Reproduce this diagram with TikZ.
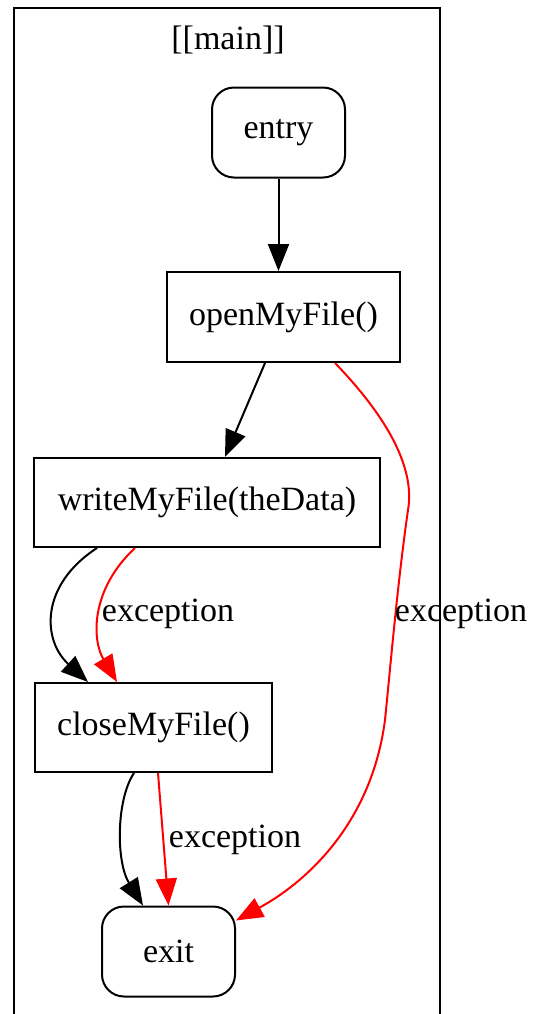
\documentclass[tikz,border=0pt]{standalone}
\usepackage{fontspec}
\setmainfont{Liberation Serif}
\usepackage{tikz}
\usetikzlibrary{arrows.meta,positioning}

\tikzset{
    flowBase/.style={
        rectangle,
        draw,
        line width=1pt,
        inner sep=0pt,
        align=center,
        font=\fontsize{17}{20}\selectfont
    },
    % node variants
    terminal/.style={flowBase, rounded corners=11pt, minimum width=66.5pt, minimum height=45pt},
    call/.style={flowBase},
    % labels
    edgeLabel/.style={font=\fontsize{17}{20}\selectfont, inner sep=0pt}
}

\begin{document}
\begin{tikzpicture}[
    x=0.5pt, y=-0.5pt,
    arr/.style={-{Triangle[length=13.5pt,width=10.5pt]}, line width=1pt},
    exc/.style={arr, draw=red}
]
\useasboundingbox (0,0) rectangle (534,1014);

% cluster frame
\draw[line width=1pt] (14,1014) -- (14,8) -- (440,8) -- (440,1014);
\node[edgeLabel] (title) at (228,40) {[[main]]};

\node[terminal] (entry) at (278.5,132.5) {entry};
\node[call, minimum width=116.5pt, minimum height=45pt] (open) at (283.5,317) {openMyFile()};
\node[call, minimum width=173pt, minimum height=44.5pt] (write) at (207,502.5) {writeMyFile(theData)};
\node[call, minimum width=118.5pt, minimum height=44.5pt] (close) at (153.5,727.5) {closeMyFile()};
\node[terminal] (exit) at (168.5,951.5) {exit};

\draw[arr] (entry.south) -- (entry.south |- open.north);
\draw[arr] ([xshift=-9.25pt]open.south) -- ([xshift=9pt]write.north);
\draw[arr] ([xshift=-55pt]write.south) .. controls (40,585) and (42,640) .. ([xshift=-32.75pt]close.north);
\draw[exc] ([xshift=-36pt]write.south) .. controls (90,590) and (92,640) .. ([xshift=-18.25pt]close.north);
\draw[arr] ([xshift=-9.75pt]close.south) .. controls (116,800) and (116,862) .. ([xshift=-12.75pt]exit.north);
\draw[exc] ([xshift=2.25pt]close.south) -- (exit.north);
\draw[exc] ([xshift=25.75pt]open.south) .. controls (390,420) and (415,470) .. (408,510)
    .. controls (398,580) and (392,650) .. (385,720)
    .. controls (372,820) and (310,880) .. ([yshift=15.5pt]exit.east);

\node[edgeLabel] (excWrite) at (168,614) {exception};
\node[edgeLabel] (excOpen) at (461,614) {exception};
\node[edgeLabel] (excClose) at (235,840) {exception};
\end{tikzpicture}
\end{document}
